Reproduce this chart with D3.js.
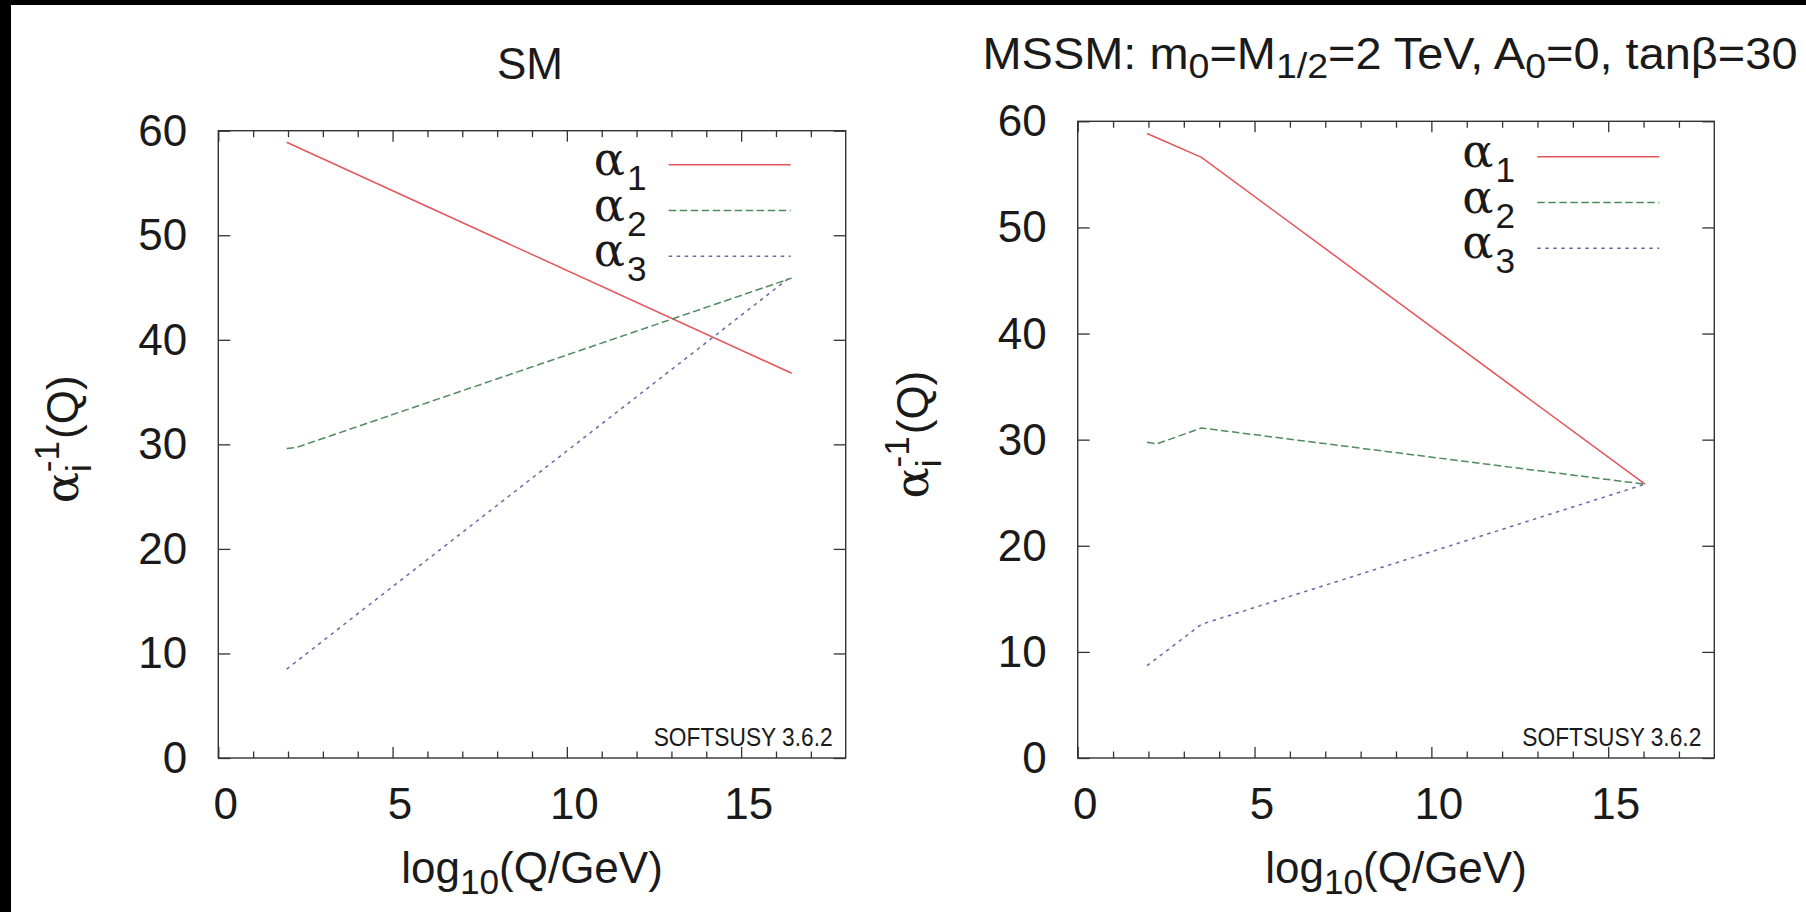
<!DOCTYPE html>
<html>
<head>
<meta charset="utf-8">
<script src="https://cdnjs.cloudflare.com/ajax/libs/d3/7.8.5/d3.min.js"></script>
<style>
body { margin: 0; background: #fff; }
svg text { font-family: "Liberation Sans", Arial, Helvetica, sans-serif; fill: #1a1a1a; }
</style>
</head>
<body>
<script>
// values: log10(Q/GeV) and alpha_i^-1 at the visible kinks/ends
const smQ1 = [1.96, 16.45];
const smA1 = [58.9, 36.8];
const smQ2 = [1.96, 2.24, 16.45];
const smA2 = [29.6, 29.7, 45.9];
const smQ3 = [1.96, 16.45];
const smA3 = [8.5, 46.1];

const mssmQ1 = [1.96, 3.5, 16.04];
const mssmA1 = [58.85, 56.6, 25.8];
const mssmQ2 = [1.96, 2.24, 3.5, 16.04];
const mssmA2 = [29.75, 29.6, 31.1, 25.8];
const mssmQ3 = [1.96, 3.5, 16.04];
const mssmA3 = [8.7, 12.6, 25.8];

const seriesNames = ["1", "2", "3"];
const xMajor = [0, 5, 10, 15];
const xMinor = [1, 2, 3, 4, 6, 7, 8, 9, 11, 12, 13, 14, 16, 17];
const yMajor = [0, 10, 20, 30, 40, 50, 60];

const colors = ["#e4555b", "#4f8a5f", "#6868a6"];
const dashes = [null, "7.5,3.5", "3.5,4.5"];
const GREEK = '"DejaVu Serif", "Liberation Serif", serif';

const W = 1806, H = 912;
const svg = d3.select("body").append("svg").attr("width", W).attr("height", H);
svg.append("rect").attr("width", W).attr("height", H).attr("fill", "#fff");
// dark strips left and top of the scan
svg.append("rect").attr("x", 0).attr("y", 0).attr("width", 11).attr("height", H).attr("fill", "#000");
svg.append("rect").attr("x", 0).attr("y", 0).attr("width", W).attr("height", 5).attr("fill", "#000");

// append tspans with sub/superscript shifts; parts = [text, shift, scale, dx, family]
function rich(el, base, parts) {
  let cur = 0;
  parts.forEach(function (p) {
    const ts = el.append("tspan")
      .text(p[0])
      .attr("dy", p[1] - cur)
      .attr("font-size", base * p[2]);
    if (p[3]) ts.attr("dx", p[3]);
    if (p[4]) ts.style("font-family", p[4]);
    cur = p[1];
  });
}

const panels = [
  {
    left: 218.3, right: 845.7, top: 130.7, bottom: 758,
    titleX: 530, titleY: 79, titleLen: null, labelX: 78,
    title: [["SM", 0, 1]],
    q: [smQ1, smQ2, smQ3], a: [smA1, smA2, smA3],
    legendY: 164.7
  },
  {
    left: 1077.7, right: 1714.3, top: 121.3, bottom: 758,
    titleX: 1390, titleY: 69, titleLen: 815, labelX: 928,
    title: [["MSSM: m", 0, 1], ["0", 9, 0.8], ["=M", 0, 1], ["1/2", 9, 0.8],
            ["=2 TeV, A", 0, 1], ["0", 9, 0.8], ["=0, tanβ=30", 0, 1]],
    q: [mssmQ1, mssmQ2, mssmQ3], a: [mssmA1, mssmA2, mssmA3],
    legendY: 156.7
  }
];

panels.forEach(function (p) {
  const x = d3.scaleLinear().domain([0, 18]).range([p.left, p.right]);
  const y = d3.scaleLinear().domain([0, 60]).range([p.bottom, p.top]);
  const g = svg.append("g");

  function tidy(ax) {
    ax.select(".domain").remove();
    ax.selectAll(".tick line").attr("stroke", "#333").attr("stroke-width", 1.3);
    ax.attr("font-family", null).attr("font-size", null);
  }

  // ticks, all pointing inward
  const bottomMajor = g.append("g").attr("transform", `translate(0,${p.bottom})`)
    .call(d3.axisBottom(x).tickValues(xMajor).tickSize(-11).tickSizeOuter(0).tickFormat(d3.format("d")));
  tidy(bottomMajor);
  bottomMajor.selectAll("text").attr("y", 60.5).attr("dy", null).attr("x", 7)
    .attr("font-size", 44).attr("fill", "#1a1a1a");
  tidy(g.append("g").attr("transform", `translate(0,${p.bottom})`)
    .call(d3.axisBottom(x).tickValues(xMinor).tickSize(-6.5).tickSizeOuter(0).tickFormat("")));
  tidy(g.append("g").attr("transform", `translate(0,${p.top})`)
    .call(d3.axisTop(x).tickValues(xMajor).tickSize(-11).tickSizeOuter(0).tickFormat("")));
  tidy(g.append("g").attr("transform", `translate(0,${p.top})`)
    .call(d3.axisTop(x).tickValues(xMinor).tickSize(-6.5).tickSizeOuter(0).tickFormat("")));

  const leftAx = g.append("g").attr("transform", `translate(${p.left},0)`)
    .call(d3.axisLeft(y).tickValues(yMajor).tickSize(-12).tickSizeOuter(0).tickFormat(d3.format("d")));
  tidy(leftAx);
  leftAx.selectAll("text").attr("x", -31).attr("dy", null).attr("y", 14.5)
    .attr("font-size", 44).attr("fill", "#1a1a1a");
  tidy(g.append("g").attr("transform", `translate(${p.right},0)`)
    .call(d3.axisRight(y).tickValues(yMajor).tickSize(-12).tickSizeOuter(0).tickFormat("")));

  g.append("rect")
    .attr("x", p.left).attr("y", p.top)
    .attr("width", p.right - p.left).attr("height", p.bottom - p.top)
    .attr("fill", "none").attr("stroke", "#333").attr("stroke-width", 1.4);

  // curves
  const line = d3.line().x(d => x(d[0])).y(d => y(d[1]));
  p.q.forEach(function (qs, i) {
    g.append("path")
      .datum(d3.zip(qs, p.a[i]))
      .attr("d", line)
      .attr("fill", "none")
      .attr("stroke", colors[i])
      .attr("stroke-width", 1.5)
      .attr("stroke-dasharray", dashes[i]);
  });

  // key
  seriesNames.forEach(function (n, i) {
    const ly = p.legendY + i * 45.8;
    g.append("line")
      .attr("x1", p.right - 177).attr("x2", p.right - 55)
      .attr("y1", ly).attr("y2", ly)
      .attr("stroke", colors[i]).attr("stroke-width", 1.5)
      .attr("stroke-dasharray", dashes[i]);
    const t = g.append("text").attr("x", p.right - 252).attr("y", ly + 10).attr("font-size", 44);
    rich(t, 44, [["α", 0, 1.05, 0, GREEK], [n, 15, 0.8, 2]]);
  });

  g.append("text")
    .attr("x", p.right - 13).attr("y", 746)
    .attr("text-anchor", "end")
    .attr("font-size", 26)
    .attr("textLength", 179).attr("lengthAdjust", "spacingAndGlyphs")
    .text("SOFTSUSY 3.6.2");

  // titles and axis labels
  const cx = (p.left + p.right) / 2;
  const tt = g.append("text").attr("x", p.titleX).attr("y", p.titleY)
    .attr("text-anchor", "middle").attr("font-size", 44);
  if (p.titleLen) tt.attr("textLength", p.titleLen).attr("lengthAdjust", "spacingAndGlyphs");
  rich(tt, 44, p.title);

  const xl = g.append("text").attr("x", cx).attr("y", 883)
    .attr("text-anchor", "middle").attr("font-size", 44);
  rich(xl, 44, [["log", 0, 1], ["10", 11, 0.8], ["(Q/GeV)", 0, 1]]);

  const yl = g.append("text")
    .attr("transform", `translate(${p.labelX},${(p.top + p.bottom) / 2 - 5}) rotate(-90)`)
    .attr("text-anchor", "middle").attr("font-size", 44);
  rich(yl, 44, [["α", 0, 1.05, 0, GREEK], ["i", 13, 0.8, 0], ["-1", -19, 0.8, -8], ["(Q)", 0, 1, 2]]);
});
</script>
</body>
</html>
